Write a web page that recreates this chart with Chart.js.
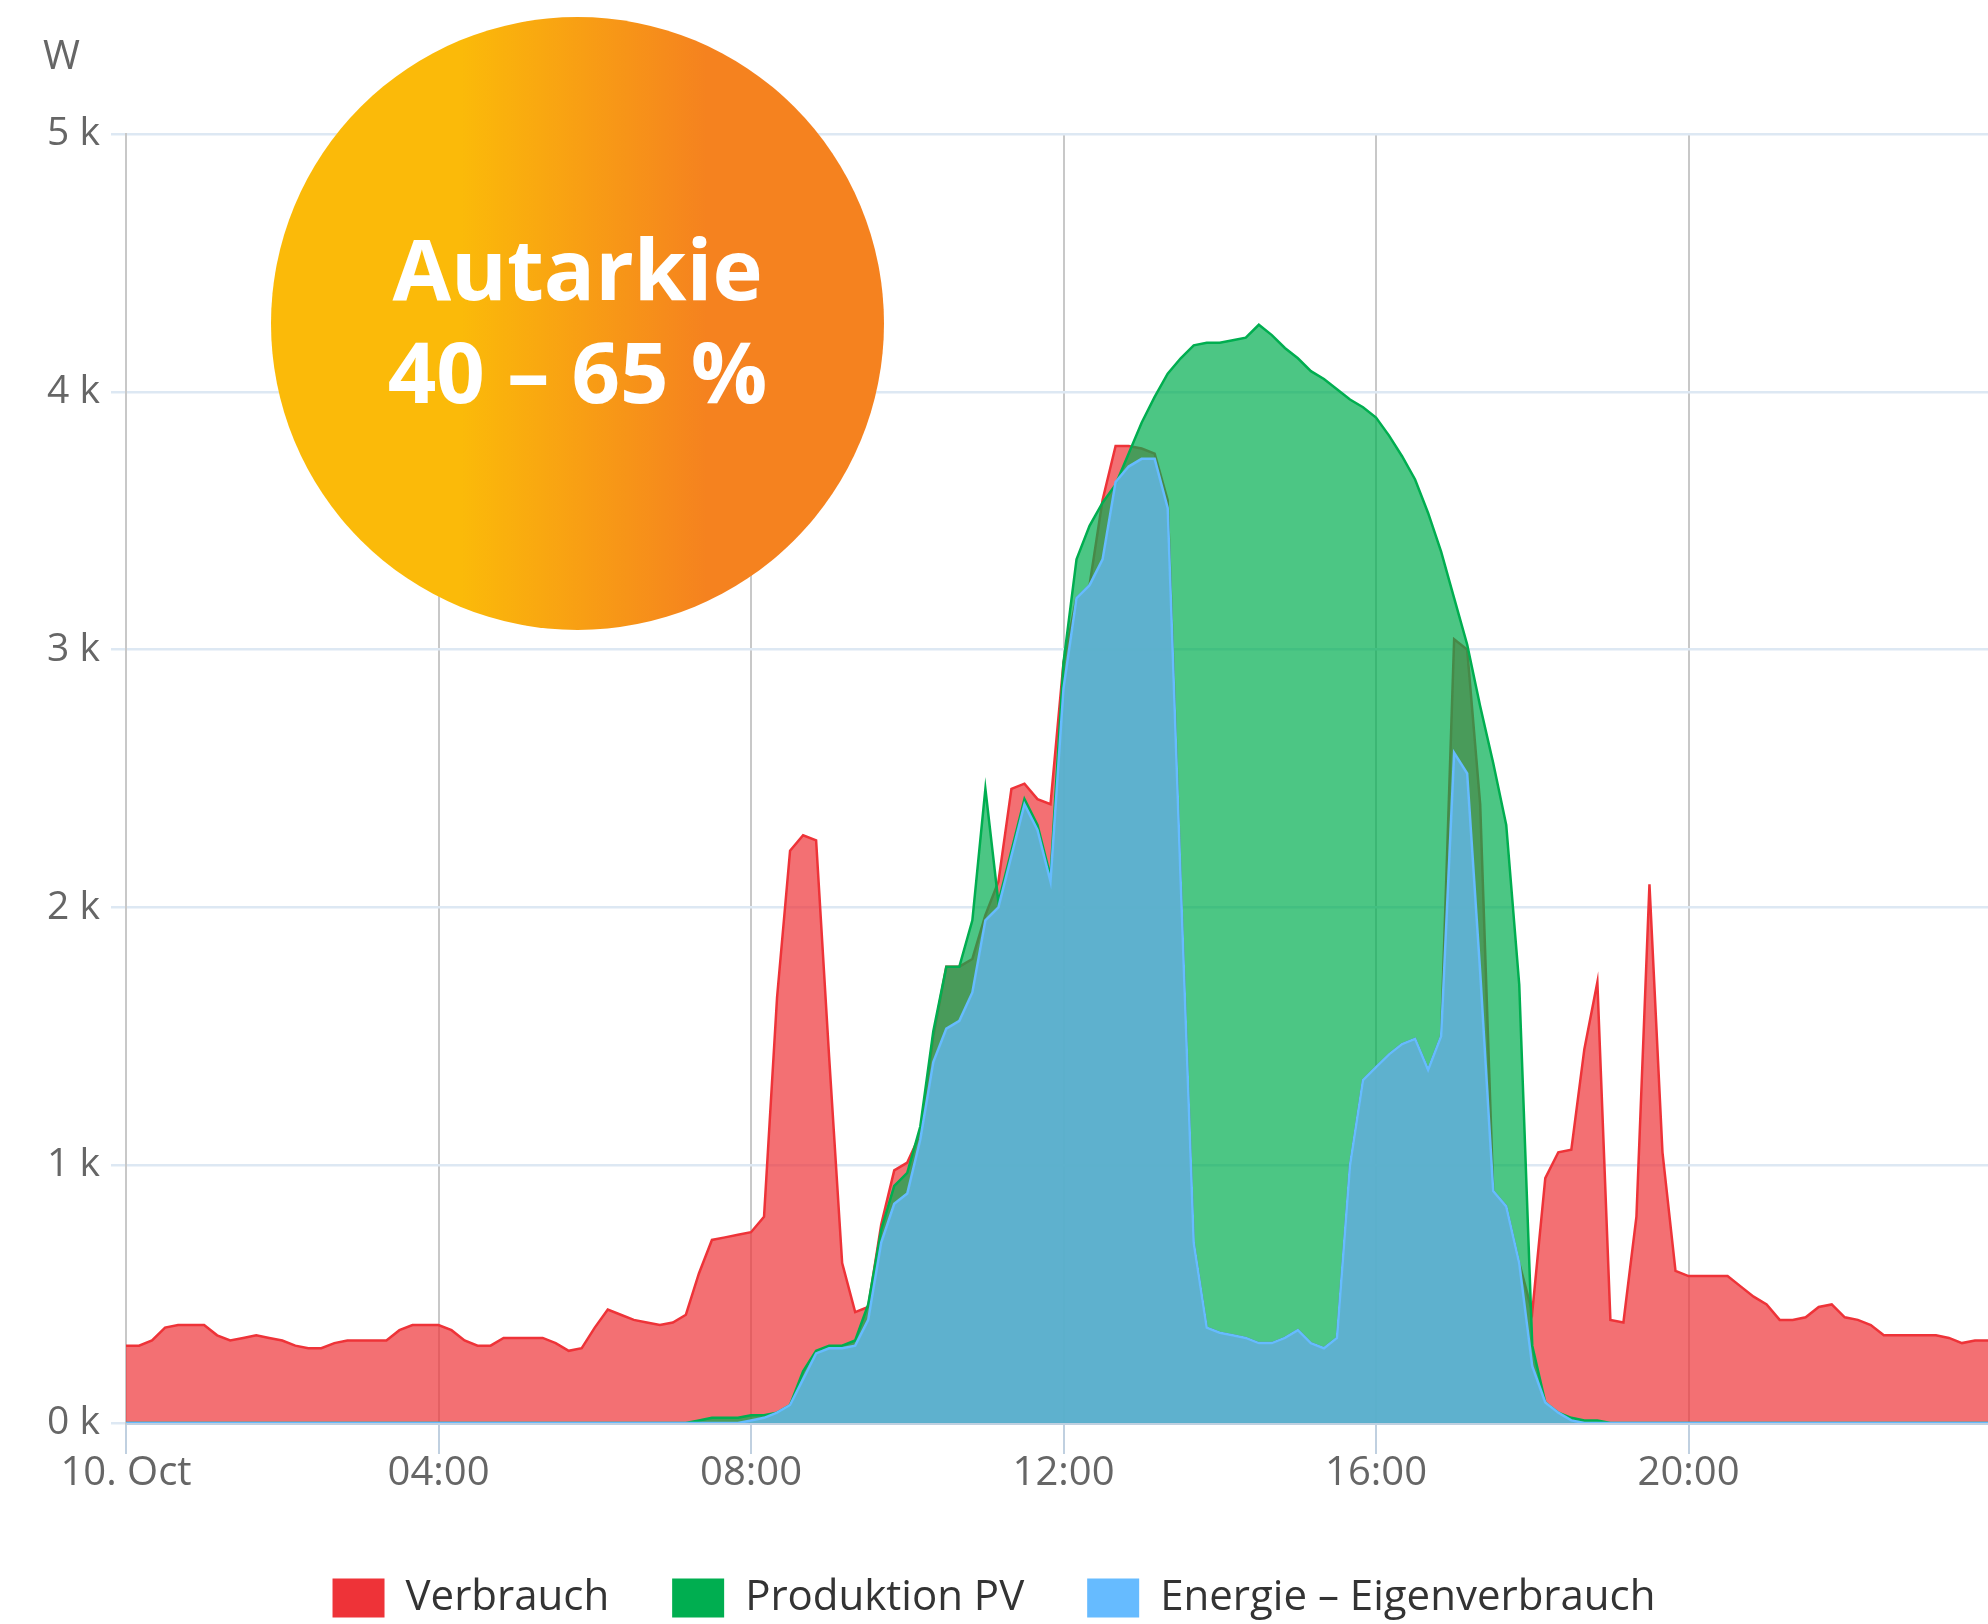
<!DOCTYPE html>
<html>
<head>
<meta charset="utf-8">
<title>Autarkie</title>
<script src="https://cdn.jsdelivr.net/npm/chart.js@4.4.1/dist/chart.umd.min.js"></script>
<style>
  html, body { margin: 0; padding: 0; background: #fff; }
  #wrap { position: relative; width: 1988px; height: 1624px; }
  #chart { display: block; }
  /* the orange badge sits on top of the chart */
  #badge {
    position: absolute; left: 271px; top: 17px; width: 613px; height: 613px;
    border-radius: 50%;
    background: linear-gradient(to right, #fbba09 31%, #f5821f 71%);
  }
  #badgeText {
    position: absolute; left: 271px; top: 216px; width: 613px;
    text-align: center; color: #fff;
    font: 700 85px/103px "Open Sans", sans-serif;
  }
</style>
</head>
<body>
<div id="wrap">
  <canvas id="chart" width="1988" height="1624"></canvas>
  <div id="badge"></div>
  <div id="badgeText">Autarkie<br>40 – 65 %</div>
</div>
<script>
// -- data ------------------------------------------------------------------->
// one value every 10 minutes, in W
const times = [
  '00:00','00:10','00:20','00:30','00:40','00:50',
  '01:00','01:10','01:20','01:30','01:40','01:50',
  '02:00','02:10','02:20','02:30','02:40','02:50',
  '03:00','03:10','03:20','03:30','03:40','03:50',
  '04:00','04:10','04:20','04:30','04:40','04:50',
  '05:00','05:10','05:20','05:30','05:40','05:50',
  '06:00','06:10','06:20','06:30','06:40','06:50',
  '07:00','07:10','07:20','07:30','07:40','07:50',
  '08:00','08:10','08:20','08:30','08:40','08:50',
  '09:00','09:10','09:20','09:30','09:40','09:50',
  '10:00','10:10','10:20','10:30','10:40','10:50',
  '11:00','11:10','11:20','11:30','11:40','11:50',
  '12:00','12:10','12:20','12:30','12:40','12:50',
  '13:00','13:10','13:20','13:30','13:40','13:50',
  '14:00','14:10','14:20','14:30','14:40','14:50',
  '15:00','15:10','15:20','15:30','15:40','15:50',
  '16:00','16:10','16:20','16:30','16:40','16:50',
  '17:00','17:10','17:20','17:30','17:40','17:50',
  '18:00','18:10','18:20','18:30','18:40','18:50',
  '19:00','19:10','19:20','19:30','19:40','19:50',
  '20:00','20:10','20:20','20:30','20:40','20:50',
  '21:00','21:10','21:20','21:30','21:40','21:50',
  '22:00','22:10','22:20','22:30','22:40','22:50',
  '23:00','23:10','23:20','23:30','23:40','23:50'
];

const verbrauch = [
  300, 300, 320, 370, 380, 380,
  380, 340, 320, 330, 340, 330,
  320, 300, 290, 290, 310, 320,
  320, 320, 320, 360, 380, 380,
  380, 360, 320, 300, 300, 330,
  330, 330, 330, 310, 280, 290,
  370, 440, 420, 400, 390, 380,
  390, 420, 580, 710, 720, 730,
  740, 800, 1650, 2220, 2280, 2260,
  1420, 620, 430, 450, 770, 980,
  1010, 1120, 1500, 1770, 1770, 1800,
  1970, 2100, 2460, 2480, 2420, 2400,
  2950, 3200, 3250, 3580, 3790, 3790,
  3780, 3760, 3580, 2100, 700, 370,
  350, 340, 330, 310, 310, 330,
  360, 310, 290, 330, 1000, 1330,
  1380, 1430, 1470, 1490, 1370, 1500,
  3040, 3000, 2400, 900, 840, 620,
  430, 950, 1050, 1060, 1450, 1710,
  400, 390, 800, 2090, 1050, 590,
  570, 570, 570, 570, 530, 490,
  460, 400, 400, 410, 450, 460,
  410, 400, 380, 340, 340, 340,
  340, 340, 330, 310, 320, 320
];

const produktion = [
  0, 0, 0, 0, 0, 0,
  0, 0, 0, 0, 0, 0,
  0, 0, 0, 0, 0, 0,
  0, 0, 0, 0, 0, 0,
  0, 0, 0, 0, 0, 0,
  0, 0, 0, 0, 0, 0,
  0, 0, 0, 0, 0, 0,
  0, 0, 10, 20, 20, 20,
  30, 30, 40, 70, 200, 280,
  300, 300, 320, 460, 750, 920,
  970, 1150, 1520, 1770, 1770, 1950,
  2460, 2020, 2220, 2420, 2320, 2120,
  2950, 3350, 3480, 3570, 3640, 3760,
  3880, 3980, 4070, 4130, 4180, 4190,
  4190, 4200, 4210, 4260, 4220, 4170,
  4130, 4080, 4050, 4010, 3970, 3940,
  3900, 3830, 3750, 3660, 3530, 3380,
  3200, 3020, 2780, 2560, 2320, 1700,
  300, 80, 40, 20, 10, 10,
  0, 0, 0, 0, 0, 0,
  0, 0, 0, 0, 0, 0,
  0, 0, 0, 0, 0, 0,
  0, 0, 0, 0, 0, 0,
  0, 0, 0, 0, 0, 0
];

const eigenverbrauch = [
  0, 0, 0, 0, 0, 0,
  0, 0, 0, 0, 0, 0,
  0, 0, 0, 0, 0, 0,
  0, 0, 0, 0, 0, 0,
  0, 0, 0, 0, 0, 0,
  0, 0, 0, 0, 0, 0,
  0, 0, 0, 0, 0, 0,
  0, 0, 0, 0, 0, 0,
  10, 20, 40, 70, 170, 270,
  290, 290, 300, 400, 700, 850,
  890, 1100, 1400, 1530, 1560, 1670,
  1950, 2000, 2200, 2400, 2300, 2100,
  2850, 3200, 3250, 3350, 3650, 3710,
  3740, 3740, 3550, 2100, 700, 370,
  350, 340, 330, 310, 310, 330,
  360, 310, 290, 330, 1000, 1330,
  1380, 1430, 1470, 1490, 1370, 1500,
  2600, 2520, 1750, 900, 840, 620,
  220, 80, 40, 10, 0, 0,
  0, 0, 0, 0, 0, 0,
  0, 0, 0, 0, 0, 0,
  0, 0, 0, 0, 0, 0,
  0, 0, 0, 0, 0, 0,
  0, 0, 0, 0, 0, 0
];

const tickTimes = ['00:00', '04:00', '08:00', '12:00', '16:00', '20:00'];
const tickLabels = ['10. Oct', '04:00', '08:00', '12:00', '16:00', '20:00'];
const yTickLabels = ['0 k', '1 k', '2 k', '3 k', '4 k', '5 k'];

const seriesNames = ['Verbrauch', 'Produktion PV', 'Energie – Eigenverbrauch'];
const seriesColors = ['#ee3338', '#00ae50', '#66bbff'];
const fillColors = ['rgba(238,51,56,0.7)', 'rgba(0,174,80,0.7)', 'rgba(102,187,255,0.7)'];

// -- helpers ---------------------------------------------------------------->
function isMajor(i) {
    return tickTimes.indexOf(times[i]) >= 0;
}

// order: higher is drawn first, so red sits at the bottom and blue on top
function area(i, values, order) {
    return {
        label: seriesNames[i],
        data: values,
        borderColor: seriesColors[i],
        backgroundColor: fillColors[i],
        borderWidth: 2.5,
        fill: 'origin',
        pointRadius: 0,
        pointHoverRadius: 0,
        tension: 0,
        order: order
    };
}

// unit "W" above the y axis
const unitLabel = {
    id: 'unitLabel',
    afterDraw(chart) {
        const ctx = chart.ctx;
        ctx.save();
        ctx.font = '40px "Open Sans", sans-serif';
        ctx.fillStyle = '#666';
        ctx.textBaseline = 'middle';
        ctx.textAlign = 'left';
        ctx.fillText('W', chart.chartArea.left - 83, chart.chartArea.top - 76);
        ctx.restore();
    }
};

// -- chart ------------------------------------------------------------------>
Chart.defaults.font.family = '"Open Sans", sans-serif';

new Chart(document.getElementById('chart'), {
    type: 'line',
    data: {
        labels: times,
        datasets: [
            area(0, verbrauch, 3),
            area(1, produktion, 2),
            area(2, eigenverbrauch, 1)
        ]
    },
    options: {
        responsive: false,
        animation: false,
        layout: { padding: { top: 134, left: 0, right: 0, bottom: -5 } },
        plugins: {
            tooltip: { enabled: false },
            legend: {
                position: 'bottom',
                labels: {
                    boxWidth: 52,
                    boxHeight: 39,
                    padding: 63,
                    color: '#333',
                    font: { size: 42 },
                    sort: (a, b) => a.datasetIndex - b.datasetIndex,
                    generateLabels: chart => Chart.defaults.plugins.legend.labels.generateLabels(chart).map(l => Object.assign(l, {
                        fillStyle: seriesColors[l.datasetIndex],
                        strokeStyle: seriesColors[l.datasetIndex],
                        lineWidth: 0
                    }))
                }
            }
        },
        scales: {
            x: {
                type: 'category',
                offset: false,
                grid: {
                    color: c => isMajor(c.index) ? '#c8c8c8' : 'rgba(0,0,0,0)',
                    tickColor: c => isMajor(c.index) ? '#c0d0e0' : 'rgba(0,0,0,0)',
                    lineWidth: 2,
                    tickWidth: 2,
                    tickLength: 31
                },
                border: { color: '#c0d0e0', width: 3 },
                ticks: {
                    autoSkip: false,
                    maxRotation: 0,
                    minRotation: 0,
                    padding: 0,
                    color: '#666',
                    font: { size: 40, lineHeight: 1 },
                    callback: (v, i) => {
                        const k = tickTimes.indexOf(times[i]);
                        return k >= 0 ? tickLabels[k] : '';
                    }
                },
                afterFit: s => { s.height = s.chart.height + 5 - s.chart.legend.height - 1423; }
            },
            y: {
                min: 0,
                max: 5000,
                ticks: {
                    stepSize: 1000,
                    padding: 11,
                    color: '#666',
                    font: { size: 39 },
                    callback: v => yTickLabels[v / 1000]
                },
                grid: { color: '#dde8f3', lineWidth: 2.5, tickLength: 15, tickColor: '#dde8f3' },
                border: { color: '#c8c8c8', width: 2 },
                afterFit: s => { s.width = 126; }
            }
        }
    },
    plugins: [unitLabel]
});
</script>
</body>
</html>
